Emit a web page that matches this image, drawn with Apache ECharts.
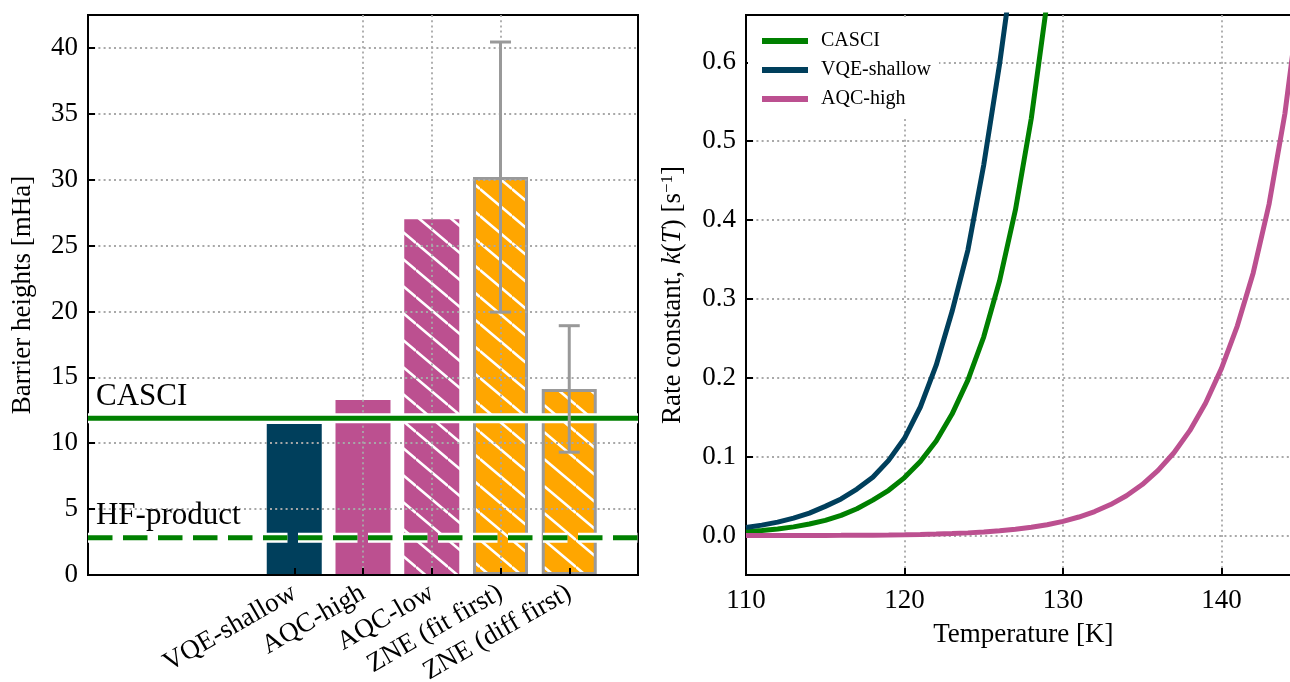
<!DOCTYPE html>
<html><head><meta charset="utf-8">
<script src="https://cdn.jsdelivr.net/npm/echarts@6/dist/echarts.min.js"></script>
<style>html,body{margin:0;padding:0;background:#fff}#c{width:1290px;height:682px}</style>
</head><body><div id="c"></div>
<script>
// ---------- data (left panel) ----------
const methods = ['VQE-shallow', 'AQC-high', 'AQC-low', 'ZNE (fit first)', 'ZNE (diff first)'];
const barrierValues = [11.46, 13.28, 27.0, 30.2, 14.12];
const barrierErrors = [0, 0, 0, 10.25, 4.8];
const casciBarrier = 11.9;
const hfProductBarrier = 2.83;
const barrierTickStep = 5;

// ---------- data (right panel) ----------
const temperatures = [110,111,112,113,114,115,116,117,118,119,120,121,122,123,124,125,126,127,128,129,130,131,132,133,134,135,136,137,138,139,140,141,142,143,144,145];
const kCasci = [0.0048,0.0063,0.0083,0.0110,0.0146,0.0193,0.0256,0.0340,0.0449,0.0574,0.0735,0.094,0.120,0.154,0.197,0.252,0.323,0.413,0.529,0.677,0.866];
const kVqeShallow = [0.0102,0.0132,0.0170,0.0222,0.0285,0.0370,0.0465,0.059,0.074,0.0953,0.1233,0.163,0.216,0.284,0.362,0.470,0.598,0.745];
const kAqcHigh = [0.00003,0.00005,0.00007,0.0001,0.00014,0.0002,0.00028,0.00039,0.00055,0.00075,0.00103,0.00139,0.00189,0.00254,0.00341,0.00455,0.00605,0.0080,0.0105,0.0138,0.0180,0.0235,0.0304,0.0393,0.0505,0.0647,0.0826,0.105,0.133,0.168,0.212,0.266,0.333,0.420,0.535,0.690];

// ---------- styles ----------
const F = 'Liberation Serif';
const NAVY = '#003f5c', PINK = '#bc5090', ORANGE = '#ffa600', GREEN = '#008000', GREY = '#999999';
const gridLine = {color: '#a8a8a8', width: 1.8, type: [2, 3.2]};

function hatch(base) {
  const W = 32, H = 27, c = document.createElement('canvas');
  c.width = W; c.height = H;
  const g = c.getContext('2d');
  g.fillStyle = base; g.fillRect(0, 0, W, H);
  g.strokeStyle = '#ffffff'; g.lineWidth = 2.6;
  for (const j of [-1, 0, 1]) { g.beginPath(); g.moveTo(0, j * H); g.lineTo(W, H + j * H); g.stroke(); }
  return {image: c, repeat: 'repeat'};
}
const barStyles = [
  {color: NAVY},
  {color: PINK},
  {color: hatch(PINK)},
  {color: hatch(ORANGE), borderColor: GREY, borderWidth: 3},
  {color: hatch(ORANGE), borderColor: GREY, borderWidth: 3}
];

// category axis: 3 empty slots on the left, 1 on the right (xlim -3 .. 5)
const PAD_L = 3;
const categories = ['_a', '_b', '_c'].concat(methods, ['_d']);
const isMethod = (i) => i >= PAD_L && i < PAD_L + methods.length;
const barData = categories.map((c, i) => isMethod(i)
  ? {value: barrierValues[i - PAD_L], itemStyle: barStyles[i - PAD_L]} : '-');
const errData = [];
barrierErrors.forEach((e, i) => { if (e > 0) errData.push([i + PAD_L, barrierValues[i] - e, barrierValues[i] + e]); });
const casciLine = categories.map(() => casciBarrier);
const hfLine = categories.map(() => hfProductBarrier);

const pairs = (arr) => arr.map((v, i) => [temperatures[i], v]);

const axisBlack = {show: true, onZero: false, lineStyle: {color: '#000', width: 2}};
const tickIn = {show: true, inside: true, length: 7, lineStyle: {color: '#000', width: 2}};
const lab = {fontSize: 27, fontFamily: F, color: '#000'};
const richLab = {s: {fontSize: 27, fontFamily: F, color: '#000'}};
const splitCommon = {show: true, showMinLine: false, showMaxLine: false, lineStyle: gridLine};
const annot = {fontSize: 31, fontFamily: F, color: '#000'};

const chart = echarts.init(document.getElementById('c'), null, {renderer: 'canvas'});
chart.setOption({
  animation: false,
  backgroundColor: '#fff',
  textStyle: {fontFamily: F},
  grid: [
    {left: 88, top: 15, width: 550, height: 560, show: true, borderColor: '#000', borderWidth: 2,
     containLabel: false, outerBoundsMode: 'none'},
    {left: 746, top: 15, width: 554.75, height: 560, show: true, borderColor: '#000', borderWidth: 2,
     containLabel: false, outerBoundsMode: 'none'}
  ],
  legend: {
    data: ['CASCI', 'VQE-shallow', 'AQC-high'], orient: 'vertical',
    left: 748, top: 17, padding: [14, 8, 10, 14], itemGap: 9, itemWidth: 46, itemHeight: 6,
    icon: 'rect', backgroundColor: '#fff',
    textStyle: {fontSize: 20, fontFamily: F, color: '#000', lineHeight: 20, padding: [0, 0, 0, 8]}
  },
  xAxis: [
    {gridIndex: 0, type: 'category', data: categories, boundaryGap: false, z: 3,
     axisLine: axisBlack,
     axisTick: Object.assign({}, tickIn, {interval: isMethod}),
     axisLabel: Object.assign({}, lab, {interval: isMethod, rotate: 30, margin: 16}),
     splitLine: Object.assign({}, splitCommon, {interval: isMethod})},
    {gridIndex: 1, type: 'value', min: 110, max: 145, interval: 10,
     axisLine: axisBlack, axisTick: tickIn,
     axisLabel: Object.assign({}, lab, {margin: 12, rich: richLab,
       formatter: v => (v % 10 === 0 ? '{s|' + v + '}' : '')}),
     splitLine: splitCommon,
     name: 'Temperature [K]', nameLocation: 'middle', nameGap: 46, nameTextStyle: lab}
  ],
  yAxis: [
    {gridIndex: 0, type: 'value', min: 0, max: 42.5, interval: barrierTickStep, z: 3,
     axisLine: axisBlack, axisTick: tickIn,
     axisLabel: Object.assign({}, lab, {margin: 10, rich: richLab,
       formatter: v => (v % barrierTickStep === 0 ? '{s|' + v + '}' : '')}),
     splitLine: splitCommon,
     name: 'Barrier heights [mHa]', nameLocation: 'middle', nameGap: 52, nameTextStyle: lab},
    {gridIndex: 1, type: 'value', min: -0.05, max: 0.66, splitNumber: 7,
     axisLine: axisBlack, axisTick: tickIn,
     axisLabel: Object.assign({}, lab, {margin: 10, rich: richLab,
       formatter: v => (Math.abs(v * 10 - Math.round(v * 10)) < 1e-6 ? '{s|' + v.toFixed(1) + '}' : '')}),
     splitLine: splitCommon,
     name: 'Rate constant, {i|k}({i|T}) [s{sup|\u22121}]', nameLocation: 'middle', nameGap: 60,
     nameTextStyle: Object.assign({}, lab, {rich: {
       i: {fontSize: 27, fontFamily: F, fontStyle: 'italic', color: '#000'},
       sup: {fontSize: 17, fontFamily: F, color: '#000', verticalAlign: 'top'}
     }})}
  ],
  series: [
    {name: 'barriers', type: 'bar', xAxisIndex: 0, yAxisIndex: 0, barWidth: 55, z: 2, data: barData},
    {name: 'casci-halo', type: 'line', xAxisIndex: 0, yAxisIndex: 0, data: casciLine, symbol: 'none', z: 4,
     lineStyle: {color: '#fff', width: 10}, silent: true},
    {name: 'casci-ref', type: 'line', xAxisIndex: 0, yAxisIndex: 0, data: casciLine, symbol: 'none', z: 5,
     lineStyle: {color: GREEN, width: 5}, silent: true,
     markPoint: {symbol: 'rect', symbolSize: 0.1, silent: true, itemStyle: {color: 'transparent'},
       data: [{coord: [0, casciBarrier], label: Object.assign({show: true, formatter: 'CASCI', position: [8, -21],
         align: 'left', verticalAlign: 'middle'}, annot)}]}},
    {name: 'hf-halo', type: 'line', xAxisIndex: 0, yAxisIndex: 0, data: hfLine, symbol: 'none', z: 4,
     lineStyle: {color: '#fff', width: 10, type: [24.5, 10.5], cap: 'butt'}, silent: true},
    {name: 'hf-ref', type: 'line', xAxisIndex: 0, yAxisIndex: 0, data: hfLine, symbol: 'none', z: 5,
     lineStyle: {color: GREEN, width: 5, type: [24.5, 10.5], cap: 'butt'}, silent: true,
     markPoint: {symbol: 'rect', symbolSize: 0.1, silent: true, itemStyle: {color: 'transparent'},
       data: [{coord: [0, hfProductBarrier], label: Object.assign({show: true, formatter: 'HF-product', position: [8, -22],
         align: 'left', verticalAlign: 'middle'}, annot)}]}},
    {name: 'errors', type: 'custom', xAxisIndex: 0, yAxisIndex: 0, z: 6, data: errData,
     renderItem: function (params, api) {
       const x = api.value(0), lo = api.coord([x, api.value(1)]), hi = api.coord([x, api.value(2)]);
       const cap = 10.5, st = {stroke: GREY, lineWidth: 3};
       return {type: 'group', children: [
         {type: 'line', shape: {x1: lo[0], y1: lo[1], x2: hi[0], y2: hi[1]}, style: st},
         {type: 'line', shape: {x1: lo[0] - cap, y1: lo[1], x2: lo[0] + cap, y2: lo[1]}, style: st},
         {type: 'line', shape: {x1: hi[0] - cap, y1: hi[1], x2: hi[0] + cap, y2: hi[1]}, style: st}
       ]};
     }},
    {name: 'CASCI', type: 'line', xAxisIndex: 1, yAxisIndex: 1, data: pairs(kCasci), symbol: 'none',
     color: GREEN, lineStyle: {width: 5, color: GREEN}},
    {name: 'VQE-shallow', type: 'line', xAxisIndex: 1, yAxisIndex: 1, data: pairs(kVqeShallow), symbol: 'none',
     color: NAVY, lineStyle: {width: 5, color: NAVY}},
    {name: 'AQC-high', type: 'line', xAxisIndex: 1, yAxisIndex: 1, data: pairs(kAqcHigh), symbol: 'none',
     color: PINK, lineStyle: {width: 5, color: PINK}}
  ]
});
</script></body></html>
